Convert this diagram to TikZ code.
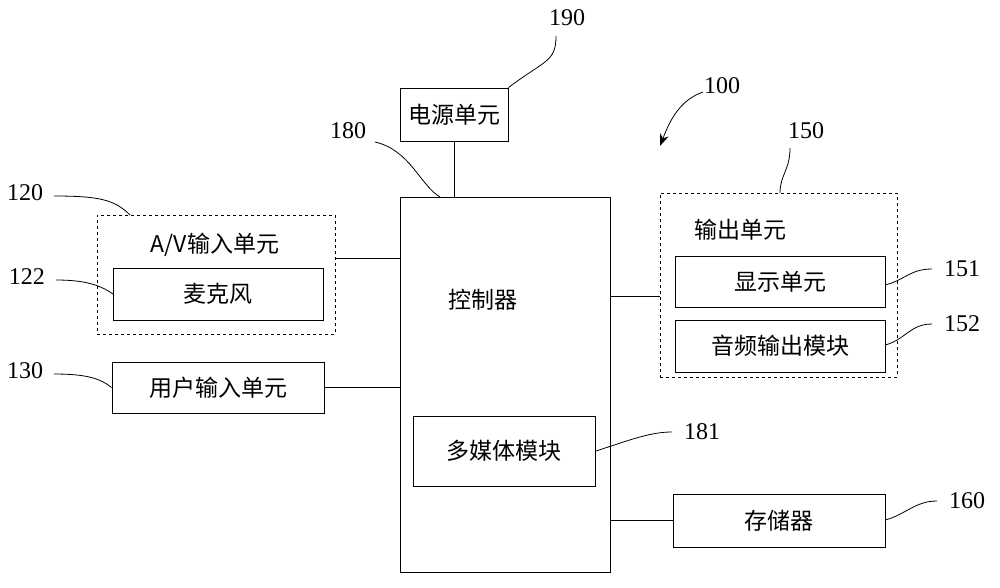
\documentclass[tikz,border=0pt]{standalone}
\usepackage{fontspec}
\setmainfont{Liberation Serif}
\newfontfamily\cjk{Noto Sans CJK SC}
\usetikzlibrary{arrows.meta}
\begin{document}
\begin{tikzpicture}[x=1pt,y=-1pt,
 box/.style={draw,thick,rectangle,inner sep=0},
 dbox/.style={draw,thick,dashed,rectangle,inner sep=0},
 lbl/.style={font=\fontsize{24}{26}\selectfont,inner sep=1pt},
 txt/.style={font=\cjk\fontsize{23}{26}\selectfont},
 lead/.style={thick}]
\useasboundingbox (0,0) rectangle (1000,587);
% boxes
\node[box,minimum width=108,minimum height=53] (pw) at (454,114.5) {};
\node[txt] at (pw) {电源单元};
\node[box,minimum width=210,minimum height=375] (ctl) at (505,384.5) {};
\node[txt] (ctlt) at (483,300) {控制器};
\node[box,minimum width=182,minimum height=70] (mm) at (504,451) {};
\node[txt] at (mm) {多媒体模块};
\node[dbox,minimum width=238,minimum height=119] (av) at (216,274.5) {};
\node[txt] at (215,245) {A/V输入单元};
\node[box,minimum width=210,minimum height=52] (mic) at (218,294) {};
\node[txt] at (mic) {麦克风};
\node[box,minimum width=212,minimum height=51] (ui) at (218,387.5) {};
\node[txt] at (ui) {用户输入单元};
\node[dbox,minimum width=237,minimum height=184] (out) at (778.5,285) {};
\node[txt] at (740,230) {输出单元};
\node[box,minimum width=210,minimum height=51] (disp) at (780,281.5) {};
\node[txt] at (disp) {显示单元};
\node[box,minimum width=210,minimum height=52] (aud) at (780,346) {};
\node[txt] at (aud) {音频输出模块};
\node[box,minimum width=212,minimum height=53] (mem) at (779,520.5) {};
\node[txt] at (mem) {存储器};
% connectors
\draw[thick] (pw.south) -- (ctl.north -| pw.south);
\draw[thick] (av.east |- 0,258) -- (ctl.west |- 0,258);
\draw[thick] (ui.east) -- (ctl.west |- ui.east);
\draw[thick] (ctl.east |- 0,296) -- (out.west |- 0,296);
\draw[thick] (ctl.east |- mem.west) -- (mem.west);
% labels
\node[lbl] (l190) at (567,18) {190};
\draw[lead] (556,36) .. controls (556,62) and (545,60) .. (pw.north east);
\node[lbl] (l180) at (348,131) {180};
\draw[lead] (375,142) .. controls (410,150) and (420,185) .. (440,197);
\node[lbl] (l100) at (722,86) {100};
\draw[lead,-{Stealth[length=12pt,width=9pt]}] (703,92) .. controls (680,100) and (670,120) .. (660,146);
\node[lbl] (l150) at (806,131) {150};
\draw[lead] (790,148) .. controls (790,170) and (780,175) .. (780,193);
\node[lbl] (l120) at (25,193) {120};
\draw[lead] (54,196) .. controls (100,196) and (115,200) .. (130,215);
\node[lbl] (l122) at (27,277) {122};
\draw[lead] (56,280) .. controls (85,280) and (100,285) .. (113,294);
\node[lbl] (l130) at (25,371) {130};
\draw[lead] (54,374) .. controls (85,374) and (100,378) .. (ui.west);
\node[lbl] (l181) at (702,432) {181};
\draw[lead] (596,451) .. controls (630,440) and (650,432) .. (672,432);
\node[lbl] (l151) at (962,269) {151};
\draw[lead] (885,285) .. controls (905,280) and (910,269) .. (932,269);
\node[lbl] (l152) at (962,324) {152};
\draw[lead] (885,345) .. controls (905,340) and (910,324) .. (932,324);
\node[lbl] (l160) at (967,501) {160};
\draw[lead] (885,520) .. controls (905,515) and (915,501) .. (937,501);
\end{tikzpicture}
\end{document}
